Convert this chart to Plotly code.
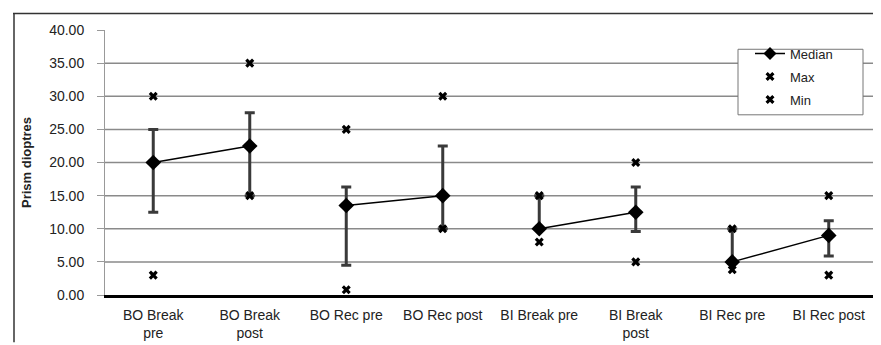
import plotly.graph_objects as go

categories = ["BO Break<br>pre", "BO Break<br>post", "BO Rec pre", "BO Rec post",
              "BI Break pre", "BI Break<br>post", "BI Rec pre", "BI Rec post"]
median = [20.0, 22.5, 13.5, 15.0, 10.0, 12.5, 5.0, 9.0]
err_upper = [25.0, 27.5, 16.3, 22.5, 15.0, 16.3, 10.0, 11.2]
err_lower = [12.5, 15.0, 4.5, 10.0, 10.0, 9.6, 4.8, 5.9]
max_vals = [30.0, 35.0, 25.0, 30.0, 15.0, 20.0, 10.0, 15.0]
min_vals = [3.0, 15.0, 0.8, 10.0, 8.0, 5.0, 3.8, 3.0]
y_ticks = [0, 5, 10, 15, 20, 25, 30, 35, 40]

xs = list(range(len(categories)))

# median line: connect pre/post pairs only
lx, ly = [], []
for i in range(0, len(xs), 2):
    lx += [xs[i], xs[i + 1], None]
    ly += [median[i], median[i + 1], None]

fig = go.Figure()

fig.add_trace(go.Scatter(
    x=xs, y=median, mode="markers", showlegend=False,
    marker=dict(size=1, color="rgba(0,0,0,0)"),
    error_y=dict(type="data", symmetric=False,
                 array=[u - m for u, m in zip(err_upper, median)],
                 arrayminus=[m - l for m, l in zip(median, err_lower)],
                 color="#3a3a3a", thickness=3, width=5),
))
fig.add_trace(go.Scatter(
    x=lx, y=ly, mode="lines", showlegend=False,
    line=dict(color="black", width=1.5),
))
fig.add_trace(go.Scatter(
    x=xs, y=median, mode="markers", showlegend=False,
    marker=dict(symbol="diamond", size=12, color="black"),
))
fig.add_trace(go.Scatter(
    x=[None], y=[None], mode="lines+markers", name="Median", legendgroup="a",
    line=dict(color="black", width=1.5),
    marker=dict(symbol="diamond", size=10, color="black"),
))
fig.add_trace(go.Scatter(
    x=xs, y=max_vals, mode="markers", name="Max", legendgroup="b",
    marker=dict(symbol="x", size=8, color="black", line=dict(width=0)),
))
fig.add_trace(go.Scatter(
    x=xs, y=min_vals, mode="markers", name="Min", legendgroup="c",
    marker=dict(symbol="x", size=8, color="black", line=dict(width=0)),
))

L, R, T, B = 97, 869, 22, 297
W = R - L
H = B - T


def px(xp):
    return (xp - L) / W


def py(yp):
    return (B - yp) / H


shapes = []
for v in y_ticks[1:-1]:
    shapes.append(dict(type="line", xref="paper", yref="y", x0=0, x1=1, y0=v, y1=v,
                       line=dict(color="#8a8a8a", width=1.5), layer="below"))
# outer frame (top and left edges)
shapes.append(dict(type="line", xref="paper", yref="paper",
                   x0=px(5), x1=px(871), y0=py(5), y1=py(5),
                   line=dict(color="#333", width=1.5)))
shapes.append(dict(type="line", xref="paper", yref="paper",
                   x0=px(6), x1=px(6), y0=py(5), y1=py(346),
                   line=dict(color="#333", width=1.5)))
# legend box
shapes.append(dict(type="rect", xref="paper", yref="paper",
                   x0=px(730), x1=px(855), y0=py(110), y1=py(42),
                   fillcolor="white", line=dict(color="#777", width=1), layer="above"))

fig.update_layout(
    width=881, height=345,
    margin=dict(l=L, r=881 - R, t=T, b=345 - B),
    paper_bgcolor="white", plot_bgcolor="white",
    font=dict(family="Liberation Sans, Arial", size=14, color="#222"),
    shapes=shapes,
    showlegend=True,
    legend=dict(x=px(742), y=py(31), xanchor="left", yanchor="top",
                bgcolor="rgba(0,0,0,0)", borderwidth=0,
                font=dict(size=13), itemwidth=30, tracegroupgap=3),
    xaxis=dict(range=[-0.5, 7.5], tickvals=xs, ticktext=categories,
               showgrid=False, zeroline=False,
               showline=True, linecolor="black", linewidth=3,
               ticks="outside", ticklen=5, tickcolor="rgba(0,0,0,0)",
               tickfont=dict(size=14)),
    yaxis=dict(range=[0, 40], tickvals=y_ticks,
               ticktext=[f"{v:.2f}" for v in y_ticks],
               showgrid=False, zeroline=False,
               showline=True, linecolor="#999", linewidth=1,
               ticks="outside", ticklen=7, tickcolor="#999",
               ticklabelstandoff=10,
               tickfont=dict(size=14),
               title=dict(text="<b>Prism dioptres</b>", standoff=14,
                          font=dict(size=13))),
)

fig.write_html("out.html")
